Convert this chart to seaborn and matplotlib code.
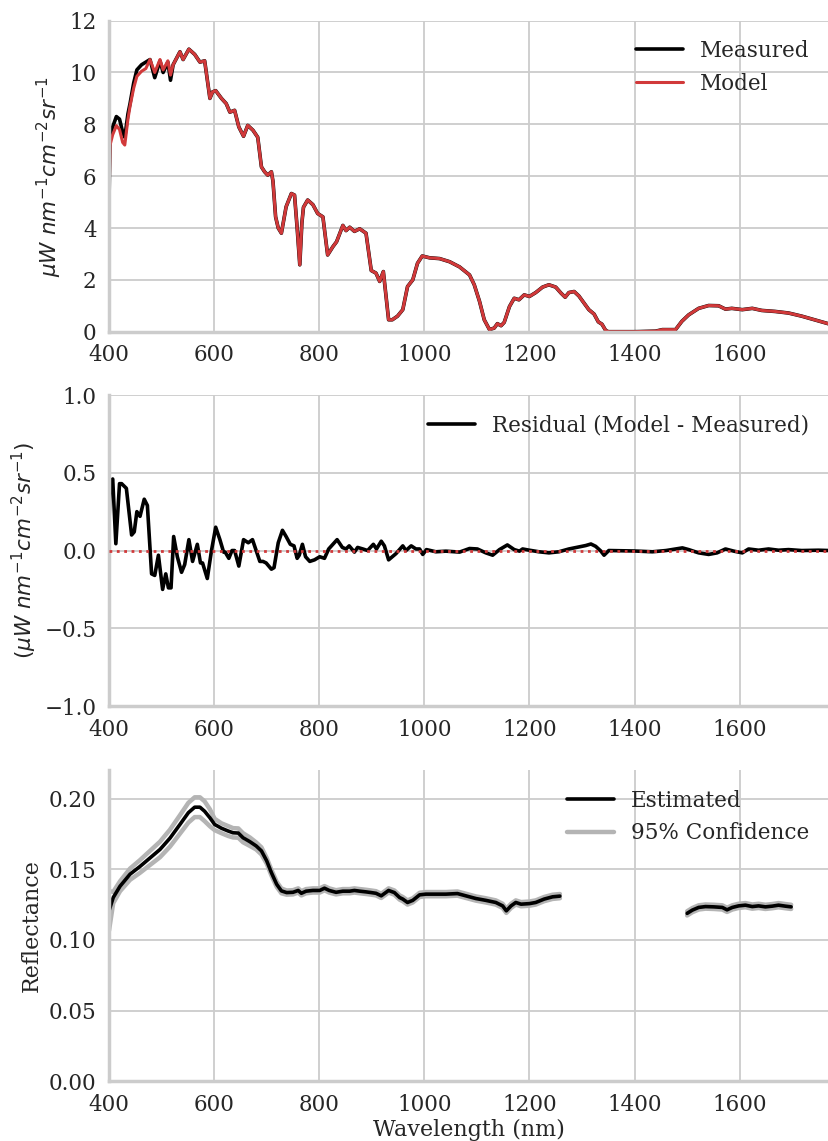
import numpy as np
import pandas as pd
import matplotlib
matplotlib.use("Agg")
import matplotlib.pyplot as plt
import seaborn as sns

# --- radiance spectrum (top panel) ---
wl = [400, 402, 407, 414, 420, 426, 430, 436, 440, 447, 453, 462, 470, 478, 487, 497,
      503, 512, 517, 522, 535, 541, 552, 563, 573, 582, 592, 597, 603, 614, 623, 630,
      639, 647, 656, 664, 674, 683, 690, 696, 702, 709, 712, 717, 722, 728, 737, 747,
      753, 758, 763, 767, 770, 778, 788, 797, 807, 816, 826, 833, 845, 851, 858, 867,
      877, 889, 899, 908, 915, 922, 932, 939, 949, 959, 968, 978, 987, 996, 1010, 1029,
      1048, 1067, 1086, 1095, 1105, 1114, 1124, 1133, 1139, 1146, 1152, 1162, 1171, 1180,
      1190, 1200, 1212, 1225, 1237, 1250, 1260, 1268, 1275, 1285, 1294, 1304, 1313, 1323,
      1331, 1338, 1345, 1350, 1400, 1440, 1453, 1478, 1490, 1503, 1522, 1541, 1560, 1573,
      1585, 1605, 1624, 1642, 1668, 1693, 1718, 1744, 1770]
measured = [5.0, 7.6, 7.9, 8.3, 8.2, 7.7, 7.5, 8.4, 8.8, 9.6, 10.1, 10.3, 10.4, 10.5, 9.8, 10.45,
            10.0, 10.4, 9.7, 10.3, 10.8, 10.5, 10.9, 10.7, 10.4, 10.45, 9.0, 9.25, 9.3, 9.0, 8.8, 8.47,
            8.54, 7.9, 7.54, 7.96, 7.77, 7.5, 6.36, 6.17, 6.04, 6.17, 5.8, 4.43, 4.0, 3.8, 4.82, 5.33,
            5.27, 4.0, 2.58, 4.2, 4.8, 5.08, 4.9, 4.56, 4.43, 2.96, 3.28, 3.47, 4.1, 3.9, 4.03, 3.87,
            3.97, 3.8, 2.36, 2.26, 1.94, 2.32, 0.46, 0.46, 0.6, 0.85, 1.74, 2.0, 2.64, 2.92, 2.85, 2.82,
            2.7, 2.5, 2.19, 1.81, 1.17, 0.46, 0.08, 0.14, 0.31, 0.23, 0.36, 0.97, 1.29, 1.23,
            1.42, 1.36, 1.51, 1.72, 1.81, 1.72, 1.49, 1.33, 1.51, 1.55, 1.38, 1.1, 0.85, 0.68,
            0.38, 0.29, 0.05, 0.0, 0.0, 0.02, 0.08, 0.08, 0.4, 0.65, 0.9, 1.01, 1.0, 0.87,
            0.9, 0.85, 0.9, 0.82, 0.78, 0.72, 0.6, 0.45, 0.3]
# model differs from measured only in the blue end
model_head = [5.0, 7.2, 7.6, 7.95, 7.8, 7.3, 7.2, 8.2, 8.7, 9.4, 9.85, 10.05, 10.15, 10.5, 10.0,
              10.5, 10.1, 10.45, 9.9, 10.3]
model = model_head + measured[len(model_head):]

# --- residual (middle panel) ---
res_wl = [400, 402, 407, 413, 420, 424, 433, 443, 448, 453, 459, 467, 473, 481, 487, 494, 502,
          508, 513, 518, 523, 530, 538, 544, 552, 559, 568, 574, 578, 587, 595, 603, 611,
          618, 621, 628, 634, 639, 647, 656, 665, 673, 680, 687, 693, 699, 709, 714, 722,
          730, 737, 745, 752, 758, 762, 768, 774, 782, 791, 801, 810, 818, 826, 834, 844,
          851, 857, 867, 873, 883, 892, 903, 909, 918, 924, 932, 939, 946, 959, 965, 975,
          984, 991, 997, 1004, 1022, 1041, 1067, 1086, 1101, 1117, 1130, 1143, 1158, 1171,
          1181, 1187, 1200, 1218, 1237, 1256, 1275, 1294, 1307, 1317, 1326, 1336, 1342, 1351,
          1400, 1434, 1460, 1478, 1491, 1503, 1522, 1541, 1557, 1573, 1589, 1605, 1617, 1636,
          1655, 1674, 1693, 1718, 1750, 1770]
residual = [0.18, 0.43, 0.46, 0.044, 0.43, 0.43, 0.40, 0.10, 0.12, 0.25, 0.22, 0.33, 0.29, -0.15, -0.16, -0.03, -0.25,
            -0.15, -0.24, -0.24, 0.09, -0.04, -0.14, -0.09, 0.07, -0.07, 0.04, -0.08, -0.08, -0.18, 0.0, 0.15, 0.07,
            -0.01, -0.01, -0.05, 0.0, 0.0, -0.1, 0.07, 0.05, 0.07, 0.0, -0.07, -0.07, -0.08, -0.12, -0.11, 0.05,
            0.13, 0.09, 0.04, 0.03, -0.05, -0.03, 0.04, -0.04, -0.07, -0.06, -0.04, -0.05, 0.01, 0.04, 0.07, 0.02,
            0.01, 0.03, -0.01, 0.02, 0.01, 0.0, 0.04, 0.01, 0.06, 0.03, -0.06, -0.04, -0.02, 0.03, 0.0, 0.03,
            0.01, 0.01, -0.025, 0.006, -0.008, -0.004, -0.01, 0.013, 0.01, -0.015, -0.03, 0.006, 0.036, 0.006,
            -0.004, 0.01, 0.002, -0.008, -0.015, -0.008, 0.01, 0.023, 0.032, 0.042, 0.027, -0.004, -0.03, 0.0,
            -0.003, -0.008, 0.0, 0.01, 0.017, 0.006, -0.015, -0.025, -0.015, 0.01, -0.004, -0.015, 0.01, 0.002,
            0.01, 0.002, 0.006, 0.0, 0.002, 0.0]

# --- reflectance (bottom panel), two segments ---
refl_wl_a = [400, 408, 421, 440, 459, 478, 497, 516, 535, 551, 563, 573, 582, 592, 601, 614,
             627, 636, 646, 655, 668, 680, 690, 700, 709, 719, 728, 738, 750, 760, 766, 775,
             788, 801, 810, 819, 832, 845, 858, 867, 877, 889, 899, 908, 918, 932, 943, 953,
             959, 968, 978, 991, 1003, 1022, 1041, 1063, 1079, 1098, 1117, 1136, 1149, 1156,
             1165, 1174, 1184, 1200, 1212, 1228, 1244, 1258]
refl_a = [0.1206, 0.130, 0.138, 0.1465, 0.152, 0.158, 0.164, 0.172, 0.1817, 0.190, 0.1939, 0.1939, 0.191, 0.1864, 0.1817, 0.179,
          0.177, 0.1758, 0.1756, 0.1723, 0.1695, 0.1665, 0.163, 0.156, 0.1476, 0.1394, 0.1347, 0.1335, 0.1337, 0.135, 0.133, 0.1345,
          0.135, 0.135, 0.1366, 0.135, 0.1337, 0.1345, 0.1345, 0.135, 0.1345, 0.134, 0.1335, 0.133, 0.1312, 0.135, 0.1335, 0.130,
          0.1289, 0.1265, 0.128, 0.1319, 0.1324, 0.1324, 0.1324, 0.1328, 0.1312, 0.1293, 0.128, 0.1265, 0.1241, 0.1206,
          0.1241, 0.1265, 0.1253, 0.1257, 0.1265, 0.1289, 0.1305, 0.131]
ci_half_a = [0.014, 0.004, 0.0035, 0.004, 0.0045, 0.005, 0.0055, 0.006, 0.0065, 0.007, 0.007, 0.007, 0.007, 0.006, 0.004, 0.0035,
             0.0035, 0.0033, 0.0033, 0.0032, 0.003, 0.0025, 0.0025, 0.002, 0.002, 0.0018, 0.0017, 0.0015, 0.0015, 0.0015, 0.0015, 0.0015,
             0.0015, 0.0015, 0.0015, 0.0015, 0.0015, 0.0015, 0.0015, 0.0015, 0.0015, 0.0015, 0.0015, 0.0015, 0.0015, 0.0015, 0.0015, 0.0015,
             0.0015, 0.0015, 0.0015, 0.0015, 0.0015, 0.0015, 0.0015, 0.0015, 0.0015, 0.0015, 0.0015, 0.0015, 0.0015, 0.0015,
             0.0015, 0.0015, 0.0015, 0.0015, 0.0015, 0.0015, 0.0015, 0.0015]
refl_wl_b = [1500, 1510, 1522, 1535, 1551, 1567, 1576, 1586, 1598, 1611, 1624, 1636, 1649, 1662, 1674, 1687, 1698]
refl_b = [0.1188, 0.1211, 0.123, 0.1236, 0.1234, 0.123, 0.1213, 0.123, 0.1241, 0.1246, 0.1236, 0.1241, 0.1234, 0.1239,
          0.1246, 0.1239, 0.1234]
ci_half_b = [0.0015] * len(refl_b)

RED = "#d1393a"
GREY = "#b4b4b4"
FS = 15.5

sns.set_theme(style="whitegrid", rc={
    "grid.color": "#cccccc", "grid.linewidth": 1.3,
    "axes.edgecolor": "#cccccc", "axes.linewidth": 2.5,
})
plt.rcParams["font.family"] = ["DejaVu Serif"]
plt.rcParams["mathtext.fontset"] = "dejavusans"

fig = plt.figure(figsize=(8.29, 11.41), dpi=100)
left, width, height = 0.1315, 0.8685, 0.2726
ax1 = fig.add_axes([left, 0.7093, width, height])
ax2 = fig.add_axes([left, 0.3812, width, height])
ax3 = fig.add_axes([left, 0.0523, width, height])

# top
spec = pd.DataFrame({"wl": wl, "Measured": measured, "Model": model})
sns.lineplot(data=spec, x="wl", y="Measured", ax=ax1, color="black", lw=2.6, label="Measured")
sns.lineplot(data=spec, x="wl", y="Model", ax=ax1, color=RED, lw=2.2, label="Model")
ax1.set_ylim(0, 12)
ax1.set_ylabel(r"$\mu W\ nm^{-1} cm^{-2} sr^{-1}$", fontsize=FS)

# middle
res = pd.DataFrame({"wl": res_wl, "res": residual})
sns.lineplot(data=res, x="wl", y="res", ax=ax2, color="black", lw=2.6,
             label="Residual (Model - Measured)")
ax2.axhline(0, color=RED, ls=":", lw=2, zorder=5)
ax2.set_ylim(-1, 1)
ax2.set_ylabel(r"$(\mu W\ nm^{-1} cm^{-2} sr^{-1})$", fontsize=FS)

# bottom
for i, (w, r, h) in enumerate([(refl_wl_a, refl_a, ci_half_a), (refl_wl_b, refl_b, ci_half_b)]):
    seg = pd.DataFrame({"wl": w, "est": r})
    seg["lo"] = seg["est"] - np.array(h)
    seg["hi"] = seg["est"] + np.array(h)
    sns.lineplot(data=seg, x="wl", y="hi", ax=ax3, color=GREY, lw=3.2,
                 label="95% Confidence" if i == 0 else None)
    sns.lineplot(data=seg, x="wl", y="lo", ax=ax3, color=GREY, lw=3.2)
    sns.lineplot(data=seg, x="wl", y="est", ax=ax3, color="black", lw=2.6,
                 label="Estimated" if i == 0 else None)
ax3.set_ylim(0, 0.22)
ax3.set_ylabel("Reflectance", fontsize=FS + 0.5)
ax3.set_xlabel("Wavelength (nm)", fontsize=FS + 0.5, labelpad=2)
h3, l3 = ax3.get_legend_handles_labels()
ax3.legend([h3[1], h3[0]], [l3[1], l3[0]], loc="upper right", frameon=False, fontsize=FS,
           handlelength=2.2)

for ax in (ax1, ax2, ax3):
    ax.set_xlim(400, 1770)
    ax.set_xticks(range(400, 1601, 200))
    ax.tick_params(labelsize=FS, pad=3)
    if ax is not ax3:
        ax.set_xlabel("")
        ax.legend(loc="upper right", frameon=False, fontsize=FS, handlelength=2.2)
    sns.despine(ax=ax)

fig.savefig("out.png", dpi=100)
